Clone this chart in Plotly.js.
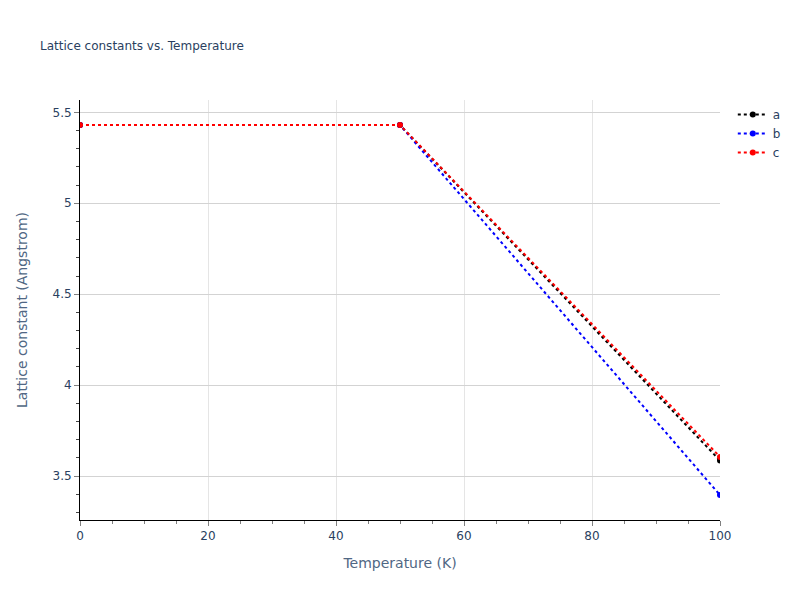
<!DOCTYPE html>
<html>
<head>
<meta charset="utf-8">
<script src="https://cdn.plot.ly/plotly-3.0.1.min.js"></script>
<style>
  body { margin: 0; }
  #chart { width: 800px; height: 600px; }
</style>
</head>
<body>
<div id="chart"></div>
<script>
var temperature = [0, 50, 100]
var latticeA = [5.43, 5.43, 3.585]
var latticeB = [5.43, 5.43, 3.395]
var latticeC = [5.43, 5.43, 3.605]

var seriesNames = ['a', 'b', 'c']
var seriesColors = ['black', 'blue', 'red']
var seriesValues = [latticeA, latticeB, latticeC]

var data = []
for (var i = 0; i < seriesNames.length; i++) {
  data.push({
    x: temperature,
    y: seriesValues[i],
    name: seriesNames[i],
    mode: 'lines+markers',
    type: 'scatter',
    line: {color: seriesColors[i], dash: 'dot', width: 2},
    marker: {color: seriesColors[i], size: 6}
  })
}

var axisStyle = {
  showline: true,
  linecolor: 'black',
  linewidth: 1,
  ticks: 'outside',
  ticklen: 5,
  tickcolor: 'gray',
  showgrid: true,
  zeroline: false,
  automargin: true,
  tickfont: {size: 12, color: '#2a3f5f'}
}

var layout = {
  width: 800,
  height: 600,
  margin: {l: 80, r: 80, t: 100, b: 80},
  font: {family: '"DejaVu Sans", verdana, arial, sans-serif', color: '#2a3f5f'},
  paper_bgcolor: 'white',
  plot_bgcolor: 'white',
  title: {text: 'Lattice constants vs. Temperature', font: {size: 12}, x: 0.05, y: 0.93},
  xaxis: Object.assign({}, axisStyle, {
    title: {text: 'Temperature (K)', font: {size: 14, color: '#506784'}, standoff: 15},
    gridcolor: '#e5e5e5',
    range: [0, 100],
    dtick: 20,
    minor: {dtick: 5, ticks: 'outside', ticklen: 3, tickcolor: 'gray', showgrid: false}
  }),
  yaxis: Object.assign({}, axisStyle, {
    title: {text: 'Lattice constant (Angstrom)', font: {size: 14, color: '#506784'}, standoff: 21},
    gridcolor: 'lightgray',
    range: [3.258, 5.568],
    dtick: 0.5,
    minor: {dtick: 0.1, ticks: 'outside', ticklen: 3, tickcolor: '#444', showgrid: false}
  }),
  legend: {font: {size: 12}}
}

Plotly.newPlot('chart', data, layout, {displayModeBar: false})
</script>
</body>
</html>
